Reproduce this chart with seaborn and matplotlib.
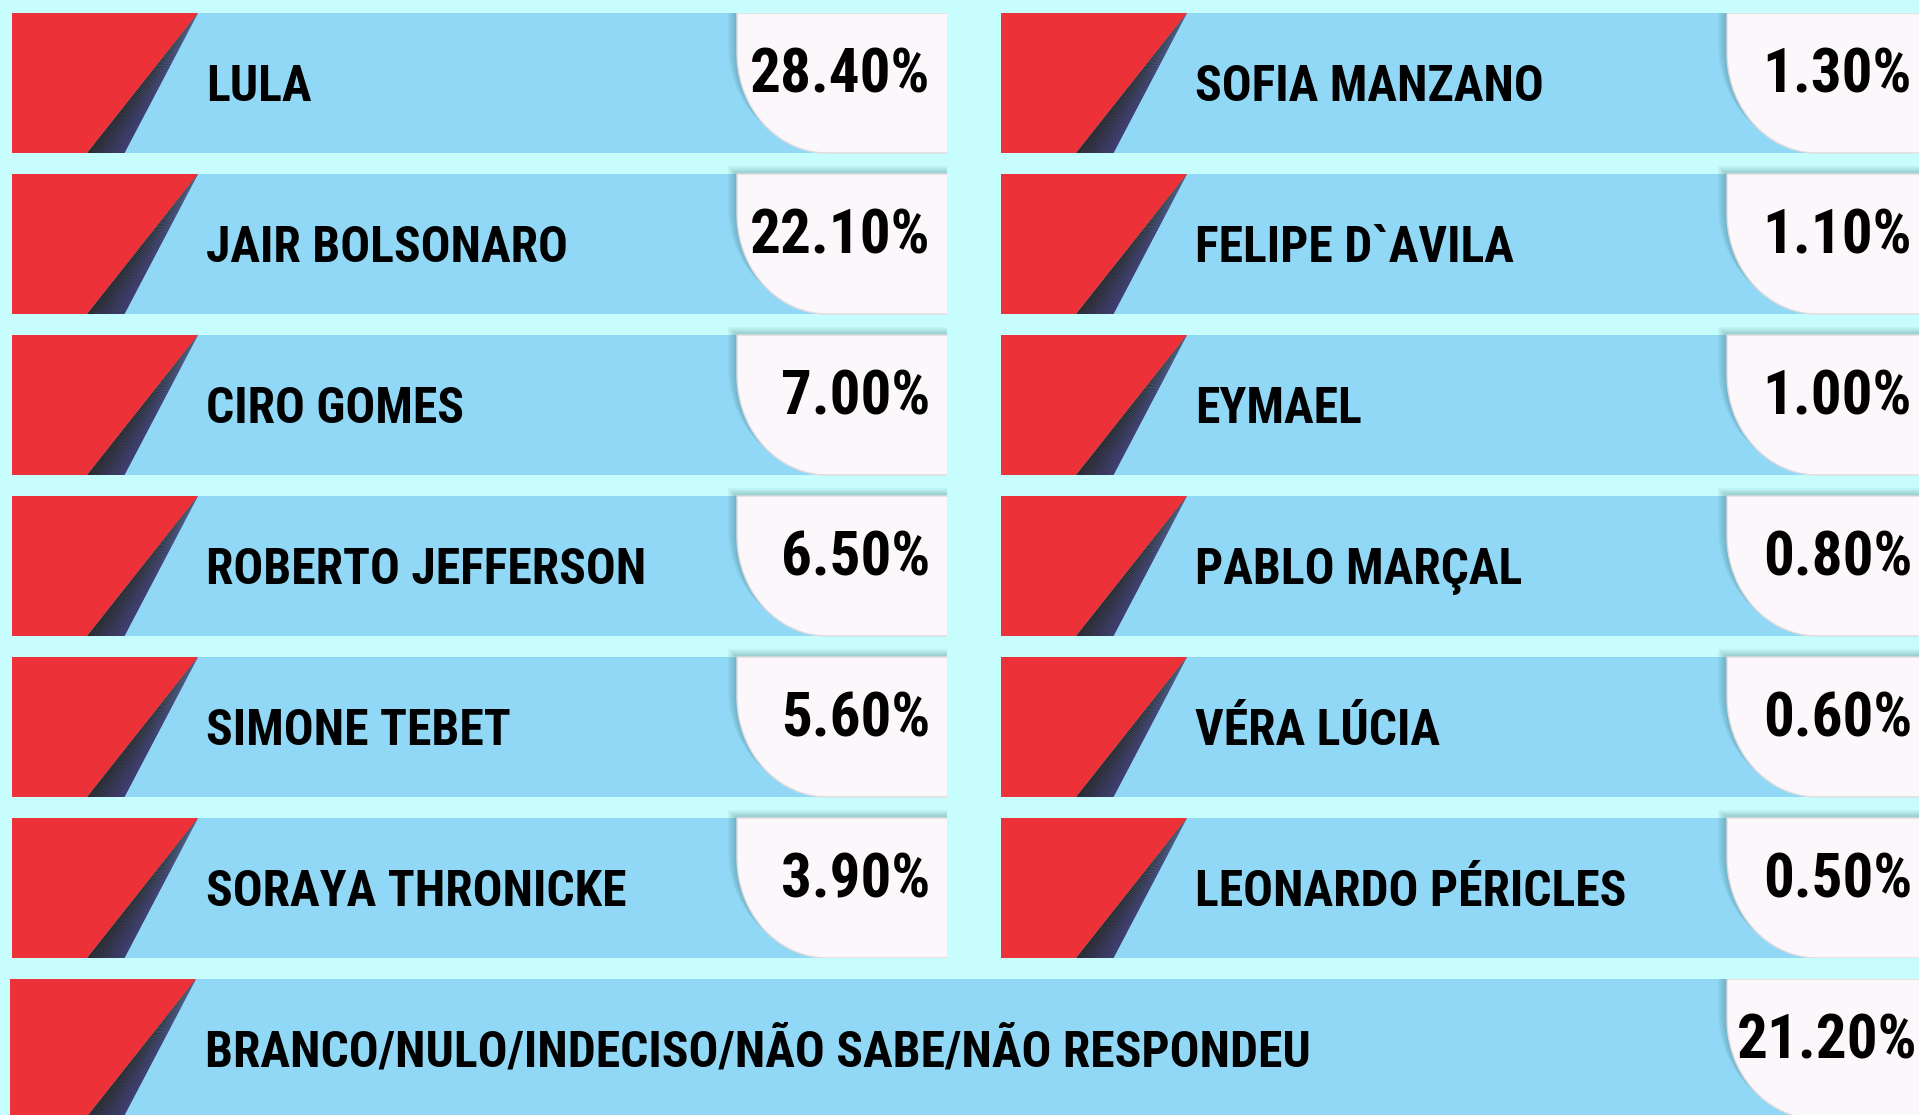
import numpy as np
import matplotlib
matplotlib.use("Agg")
import matplotlib.pyplot as plt
from matplotlib import font_manager as fm
from matplotlib.patches import Polygon
import seaborn as sns

# ---------------- data ----------------
left_names = ["LULA", "JAIR BOLSONARO", "CIRO GOMES", "ROBERTO JEFFERSON",
              "SIMONE TEBET", "SORAYA THRONICKE"]
left_values = [28.40, 22.10, 7.00, 6.50, 5.60, 3.90]
right_names = ["SOFIA MANZANO", "FELIPE D`AVILA", "EYMAEL", "PABLO MARÇAL",
               "VÉRA LÚCIA", "LEONARDO PÉRICLES"]
right_values = [1.30, 1.10, 1.00, 0.80, 0.60, 0.50]
other_names = ["BRANCO/NULO/INDECISO/NÃO SABE/NÃO RESPONDEU"]
other_values = [21.20]

# ---------------- style ----------------
BG = "#c8fdfd"
BLUE = "#90d8f5"
RED = "#ec3238"
BOX = "#fbf7fb"
DARK0 = np.array([0x2a, 0x2a, 0x2e]) / 255
DARK1 = np.array([0x3e, 0x3e, 0x70]) / 255

sns.set_theme(style="white")
plt.rcParams["font.family"] = ["Roboto", "DejaVu Sans"]


def find_font(prefs):
    """Return a FontProperties for the first bold condensed/narrow face found."""
    entries = fm.fontManager.ttflist
    for key in prefs:
        for e in entries:
            fn = e.fname.replace("-", "").replace("_", "").lower()
            if key in fn:
                return fm.FontProperties(fname=e.fname)
    for fam in ["Roboto", "Liberation Sans", "DejaVu Sans"]:
        try:
            p = fm.findfont(fm.FontProperties(family=fam, weight="bold"),
                            fallback_to_default=False)
            return fm.FontProperties(fname=p)
        except Exception:
            pass
    return fm.FontProperties(family="DejaVu Sans", weight="bold")


name_fp = find_font(["liberationsansnarrowbold", "robotocondensedbold",
                     "notosanscondensedbold", "dejavusanscondensedbold",
                     "opensanscondensedbold", "notosanssemicondensedbold"])
val_fp = find_font(["notosansextracondensedbold", "liberationsansnarrowbold",
                    "robotocondensedbold", "notosanscondensedbold",
                    "dejavusanscondensedbold", "opensanscondensedbold"])


def cap_ratio(fp):
    try:
        from matplotlib.ft2font import FT2Font
        f = FT2Font(fm.findfont(fp))
        os2 = f.get_sfnt_table("OS/2")
        cap = os2.get("sCapHeight", 0) if os2 else 0
        if cap:
            return cap / f.units_per_EM
    except Exception:
        pass
    return 0.72


W, H = 1919, 1115
fig = plt.figure(figsize=(W / 100, H / 100), dpi=100)
fig.patch.set_facecolor(BG)
renderer = fig.canvas.get_renderer()


def fit_size(sample, fp, max_w, max_cap):
    t = fig.text(0, 0, sample, fontproperties=fp, fontsize=100)
    w = t.get_window_extent(renderer).width
    t.remove()
    fs_w = 100 * max_w / w
    fs_h = max_cap / cap_ratio(fp) * 72 / 100
    return min(fs_w, fs_h)


NAME_FS = fit_size("ROBERTO JEFFERSON", name_fp, 440, 39)
VAL_FS = fit_size("28.40%", val_fp, 180, 57)
NAME_CAP = cap_ratio(name_fp) * NAME_FS * 100 / 72
VAL_CAP = cap_ratio(val_fp) * VAL_FS * 100 / 72

PITCH = 161.0          # px per category unit
CARD_H = 140.0         # px card height
HALF = CARD_H / PITCH / 2


def u(px):
    return px / PITCH


def draw_column(ax, names, values, card_w, box_left, name_x, val_right):
    lengths = [card_w] * len(names)
    sns.barplot(x=lengths, y=names, orient="h", ax=ax, color=BLUE,
                saturation=1, width=CARD_H / PITCH, linewidth=0, zorder=1)
    ax.set_xlim(0, card_w)
    for i, (nm, v) in enumerate(zip(names, values)):
        top = i - HALF
        bot = i + HALF
        # red flag
        ax.add_patch(Polygon([(0, top), (186, top), (75, bot), (0, bot)],
                             closed=True, facecolor=RED, edgecolor="none", zorder=2))
        # gradient shadow along the diagonal
        n = 14
        for k in range(n):
            t0, t1 = k / n, (k + 1) / n
            c = DARK0 + (DARK1 - DARK0) * (k + 0.5) / n
            ax.add_patch(Polygon([(186, top), (75 + 37 * t0, bot), (75 + 37 * t1 + 0.6, bot)],
                                 closed=True, facecolor=c, edgecolor="none", zorder=2))
        # value box with rounded lower-left corner
        rx, ry = 90.0, u(100)
        cy = bot - ry
        phi = np.linspace(0, np.pi / 2, 40)
        arc = [(box_left + rx - rx * np.cos(p), cy + ry * np.sin(p)) for p in phi]
        pts = [(box_left, top)] + arc + [(card_w + 40, bot), (card_w + 40, top)]
        for s in range(7):
            sh = [(x - 1.5 * s, y - u(1.3 * s)) for (x, y) in pts]
            ax.add_patch(Polygon(sh, closed=True, facecolor=(0.2, 0.4, 0.4, 0.06),
                                 edgecolor="none", zorder=2.5))
        ax.add_patch(Polygon(pts, closed=True, facecolor=BOX, edgecolor="#dedade",
                             linewidth=1.0, zorder=3))
        ax.text(name_x, i + u(NAME_CAP / 2), nm, fontproperties=name_fp,
                fontsize=NAME_FS, color="black", ha="left", va="baseline", zorder=4)
        ax.text(val_right, i + u(VAL_CAP / 2 - 12), f"{v:.2f}%", fontproperties=val_fp,
                fontsize=VAL_FS, color="black", ha="right", va="baseline", zorder=4)
    ax.set_ylim(len(names) - 1 + HALF, -HALF)
    ax.set_axis_off()


# left column
axL = fig.add_axes([12 / W, 1 - 958 / H, 935 / W, 945 / H])
axL.patch.set_alpha(0)
draw_column(axL, left_names, left_values, 935, 725, 194, 918)

# right column
axR = fig.add_axes([1001 / W, 1 - 958 / H, 935 / W, 945 / H])
axR.patch.set_alpha(0)
draw_column(axR, right_names, right_values, 935, 726, 194, 911)

# bottom full-width row
axB = fig.add_axes([10 / W, 0, 1926 / W, 136 / H])
axB.patch.set_alpha(0)
draw_column(axB, other_names, other_values, 1926, 1717, 195, 1907)
axB.set_ylim(-HALF + u(136), -HALF)

fig.savefig("out.png", dpi=100, facecolor=BG)
